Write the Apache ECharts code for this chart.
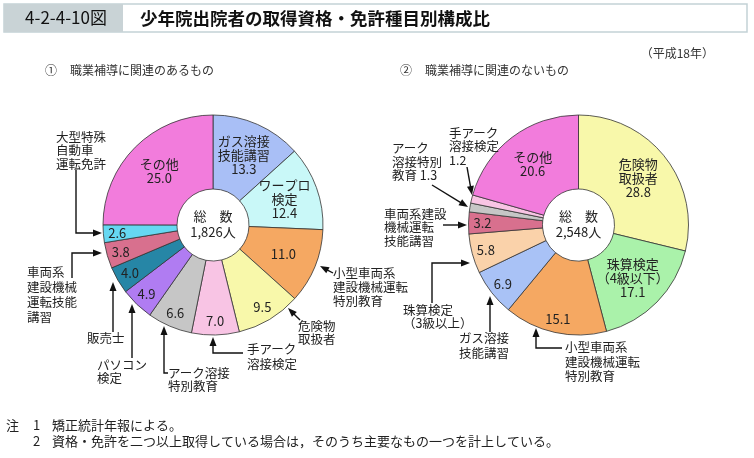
<!DOCTYPE html>
<html><head><meta charset="utf-8">
<script src="https://cdn.jsdelivr.net/npm/echarts@6/dist/echarts.min.js"></script>
<style>html,body{margin:0;padding:0;background:#fff}#c{width:754px;height:458px}</style>
</head><body><div id="c"></div>
<script>
// ---------- data ----------
const leftNames = ['ガス溶接技能講習','ワープロ検定','小型車両系建設機械特別教育','危険物取扱者','手アーク溶接検定','アーク溶接特別教育','パソコン検定','販売士','車両系建設機械運転技能講習','大型特殊自動車運転免許','その他'];
const leftValues = [13.3, 12.4, 11.0, 9.5, 7.0, 6.6, 4.9, 4.0, 3.8, 2.6, 25.0];
const leftInsideName = ['ガス溶接\n技能講習','ワープロ\n検定','','','','','','','','','その他'];
const leftTotal = '1,826人';

const rightNames = ['危険物取扱者','珠算検定（4級以下）','小型車両系建設機械運転特別教育','ガス溶接技能講習','珠算検定（3級以上）','車両系建設機械運転技能講習','アーク溶接特別教育','手アーク溶接検定','その他'];
const rightValues = [28.8, 17.1, 15.1, 6.9, 5.8, 3.2, 1.3, 1.2, 20.6];
const rightInsideName = ['危険物\n取扱者','珠算検定\n（4級以下）','','','','','','','その他'];
const rightTotal = '2,548人';

const titleCode = '4-2-4-10図';
const titleText = '少年院出院者の取得資格・免許種目別構成比';
const subLeftNo = '①', subLeft = '職業補導に関連のあるもの';
const subRightNo = '②', subRight = '職業補導に関連のないもの';
const yearNote = '（平成18年）';
const noteHead = '注';
const noteNos = ['1', '2'];
const notes = ['矯正統計年報による。', '資格・免許を二つ以上取得している場合は，そのうち主要なもの一つを計上している。'];

// ---------- styles ----------
const FONT = '"Noto Sans CJK JP", "Noto Sans", sans-serif';
const leftColors = ['#a9bff6','#c9f8f8','#f5a862','#f8f8aa','#f8c4e4','#c6c6c6','#b07cf2','#2686a6','#d8708e','#66d8f2','#f27cdc'];
const leftRing = ['mid','mid','mid','outer','outer','outer','outer','outer','outer','outer','mid'];
const rightColors = ['#f8f8aa','#aaf2aa','#f5a862','#a9c2f6','#fad2aa','#d8708e','#c6c6c6','#f8c4e4','#f27cdc'];
const rightRing = ['mid','mid','outer','outer','outer','outer','none','none','mid'];

const fmt = v => v.toFixed(1);

function pieSeries(names, values, inside, colors, ring, center) {
  const mk = (which) => names.map((n, i) => ({
    name: n, value: values[i],
    itemStyle: which === 'mid' ? { color: colors[i] } : { color: 'rgba(0,0,0,0)', borderWidth: 0 },
    label: { show: ring[i] === which,
      formatter: () => (inside[i] ? inside[i] + '\n' : '') + fmt(values[i]) }
  }));
  const base = {
    type: 'pie', center: center, startAngle: 90, clockwise: true,
    animation: false, avoidLabelOverlap: false, labelLine: { show: false },
    labelLayout: { hideOverlap: false },
    emphasis: { disabled: true },
    label: { position: 'inside', fontFamily: FONT, fontSize: 13, color: '#222', lineHeight: 14 }
  };
  return [
    Object.assign({}, base, { radius: [36, 110], data: mk('mid'),
      itemStyle: { borderColor: '#333', borderWidth: 0.8 } }),
    Object.assign({}, base, { radius: [36, 150], data: mk('outer'), silent: true, z: 3 })
  ];
}

// ---------- annotations ----------
function txt(x, y, text, o) {
  o = o || {};
  return { type: 'text', x: x, y: y, z: 10, silent: true,
    style: { text: text, fill: o.fill || '#222', font: (o.weight || 'normal') + ' ' + (o.size || 12.5) + 'px ' + FONT,
      lineHeight: o.lh || 14, textAlign: o.align || 'left', textVerticalAlign: o.va || 'top' } };
}
function arrow(pts) {
  const n = pts.length, a = pts[n - 1], b = pts[n - 2];
  const dx = a[0] - b[0], dy = a[1] - b[1], L = Math.hypot(dx, dy), ux = dx / L, uy = dy / L;
  const len = 9, hw = 3.5;
  const bx = a[0] - ux * len, by = a[1] - uy * len;
  const line = pts.slice(0, n - 1).concat([[bx + ux * 1, by + uy * 1]]);
  return [
    { type: 'polyline', z: 10, silent: true, shape: { points: line }, style: { stroke: '#111', lineWidth: 1.4, fill: null } },
    { type: 'polygon', z: 10, silent: true, shape: { points: [a, [bx - uy * hw, by + ux * hw], [bx + uy * hw, by - ux * hw]] }, style: { fill: '#111' } }
  ];
}

const leftOut = [
  [56, 130, '大型特殊\n自動車\n運転免許', 13.5, [[76,170],[76,233],[102,233]]],
  [27, 265, '車両系\n建設機械\n運転技能\n講習', 15, [[72,278],[72,253],[102,253]]],
  [87, 331, '販売士', 14, [[113,332],[113,282]]],
  [97, 358, 'パソコン\n検定', 13.5, [[132,358],[132,304]]],
  [168, 366, 'アーク溶接\n特別教育', 13.5, [[168,373],[164,373],[164,326]]],
  [247, 342, '手アーク\n溶接検定', 15, [[243,353],[213,353],[213,337]]],
  [298, 319, '危険物\n取扱者', 13.5, [[300,320],[288,308]]],
  [333, 266, '小型車両系\n建設機械運転\n特別教育', 14, [[333,273],[320,266]]]
];
const rightOut = [
  [449, 126, '手アーク\n溶接検定\n' + fmt(rightValues[7]), 13.5, [[467,167],[472,195]]],
  [392, 141.5, 'アーク\n溶接特別\n教育 ' + fmt(rightValues[6]), 13.5, [[432,185],[468,207]]],
  [384, 207, '車両系建設\n機械運転\n技能講習', 13.5, [[443,225],[467,225]]],
  [403, 303.5, '珠算検定\n（3級以上）', 13, [[432,303],[432,263],[470,263]]],
  [459, 331, 'ガス溶接\n技能講習', 15, [[490,332],[490,296]]],
  [565, 340.5, '小型車両系\n建設機械運転\n特別教育', 14.2, [[562,348],[536,348],[536,328]]]
];

const graphics = [
  { type: 'rect', z: 1, shape: { x: 4, y: 4, width: 743, height: 28 }, style: { fill: '#fff', stroke: '#c3d2d6', lineWidth: 1.5 } },
  { type: 'rect', z: 2, shape: { x: 4, y: 4, width: 119, height: 28 }, style: { fill: '#c9d3d6' } },
  txt(66, 18, titleCode, { size: 17, align: 'center', va: 'middle', fill: '#111' }),
  txt(140, 18, titleText, { size: 17.5, weight: 'bold', va: 'middle', fill: '#111' }),
  txt(714, 53, yearNote, { size: 12, align: 'right', va: 'middle', fill: '#333' }),
  txt(45, 70, subLeftNo, { size: 12, va: 'middle', fill: '#333' }),
  txt(70, 70, subLeft, { size: 12, va: 'middle', fill: '#333' }),
  txt(400, 70, subRightNo, { size: 12, va: 'middle', fill: '#333' }),
  txt(425, 70, subRight, { size: 12, va: 'middle', fill: '#333' }),
  txt(6, 425, noteHead, { size: 13, va: 'middle', fill: '#222' }),
  txt(33, 425, noteNos[0], { size: 13, va: 'middle', fill: '#222' }),
  txt(33, 441, noteNos[1], { size: 13, va: 'middle', fill: '#222' }),
  txt(52, 425, notes[0], { size: 13, va: 'middle', fill: '#222' }),
  txt(52, 441, notes[1], { size: 13, va: 'middle', fill: '#222' }),
  txt(213, 224.5, '総　数\n' + leftTotal, { size: 13, align: 'center', va: 'middle', lh: 16 }),
  txt(578.5, 224.5, '総　数\n' + rightTotal, { size: 13, align: 'center', va: 'middle', lh: 16 })
];
leftOut.concat(rightOut).forEach(d => {
  graphics.push(txt(d[0], d[1], d[2], { lh: d[3] }));
  arrow(d[4]).forEach(g => graphics.push(g));
});

const chart = echarts.init(document.getElementById('c'), null, { renderer: 'canvas' });
chart.setOption({
  backgroundColor: '#fff',
  animation: false,
  series: pieSeries(leftNames, leftValues, leftInsideName, leftColors, leftRing, [213, 225])
    .concat(pieSeries(rightNames, rightValues, rightInsideName, rightColors, rightRing, [578.5, 225])),
  graphic: graphics
});
</script></body></html>
